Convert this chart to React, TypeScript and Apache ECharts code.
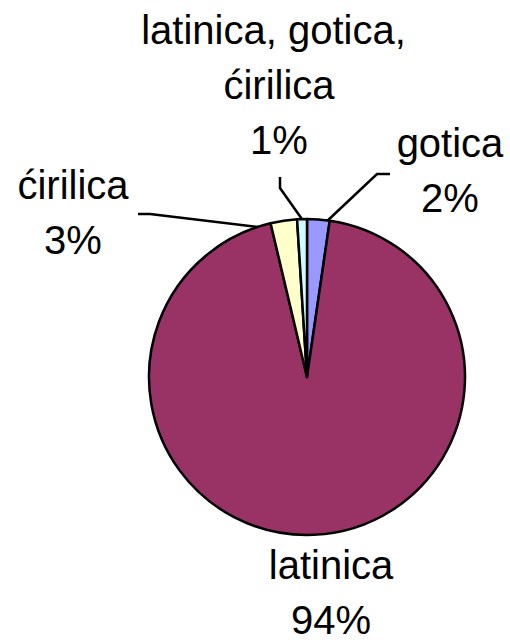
import React, { useEffect, useRef } from "react";
import * as echarts from "echarts";

const categories = ["gotica", "latinica", "ćirilica", "latinica, gotica, ćirilica"];
const values = [2.3, 94.0, 2.7, 1.0];
const colors = ["#9999FF", "#993366", "#FFFFCC", "#CCFFFF"];

// label layout (centre of each label block) and leader lines
const labelCenters: [number, number][] = [
  [450, 170],
  [331, 592],
  [73, 212],
  [279, 85],
];
const leaderLines: ([number, number][] | null)[] = [
  [[325, 223], [377, 174], [390, 174]],
  null,
  [[282, 230], [150, 214], [138, 214]],
  [[304, 222], [280, 188], [280, 177]],
];

export default function App() {
  const ref = useRef<HTMLDivElement>(null);
  useEffect(() => {
    if (!ref.current) return;
    const chart = echarts.init(ref.current, undefined, { renderer: "svg" });
    chart.setOption({
      animation: false,
      backgroundColor: "#ffffff",
      series: [
        {
          type: "pie",
          center: [307, 377],
          radius: 158,
          startAngle: 90,
          clockwise: true,
          percentPrecision: 0,
          avoidLabelOverlap: false,
          itemStyle: { borderColor: "#000000", borderWidth: 2.5 },
          label: {
            show: true,
            position: "outside",
            formatter: "{b}\n{d}%",
            fontFamily: "'Liberation Sans', Arial, sans-serif",
            fontSize: 40,
            lineHeight: 55,
            color: "#000000",
            width: 300,
            overflow: "break",
            align: "center",
          },
          labelLine: {
            show: true,
            lineStyle: { color: "#000000", width: 2.5 },
          },
          labelLayout: (params: any) => {
            const i = params.dataIndex;
            const c = labelCenters[i];
            const out: any = {
              x: c[0],
              y: c[1],
              align: "center",
              verticalAlign: "middle",
            };
            if (leaderLines[i]) out.labelLinePoints = leaderLines[i];
            return out;
          },
          data: categories.map((name, i) => ({
            name,
            value: values[i],
            itemStyle: { color: colors[i] },
            labelLine: { show: leaderLines[i] !== null },
          })),
        },
      ],
    });
    return () => chart.dispose();
  }, []);
  return (
    <div
      ref={ref}
      style={{ position: "absolute", left: 0, top: 0, width: 510, height: 644 }}
    />
  );
}
